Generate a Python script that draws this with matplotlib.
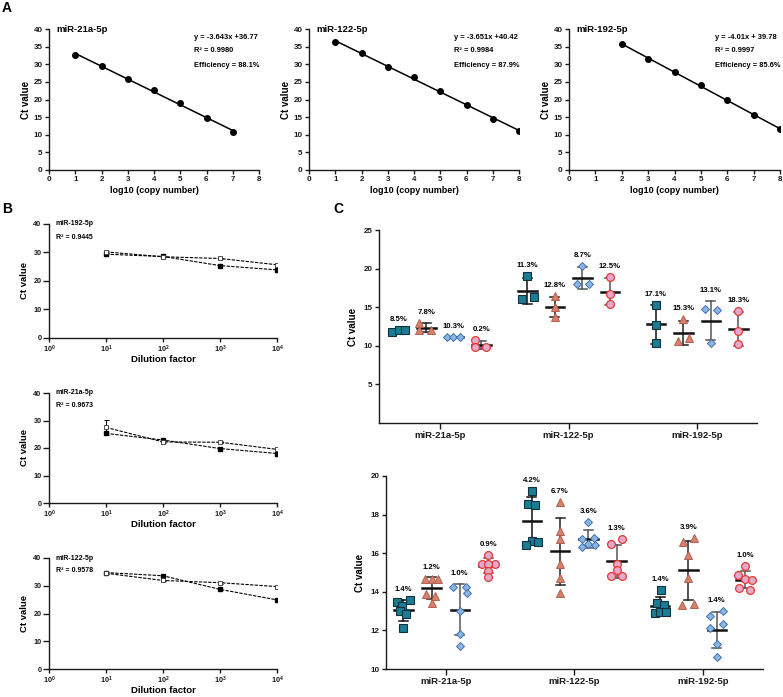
import numpy as np
import matplotlib
matplotlib.use('Agg')
import matplotlib.pyplot as plt

plt.rcParams['font.family'] = ['Liberation Sans', 'DejaVu Sans']
plt.rcParams['font.weight'] = 'bold'
plt.rcParams['axes.labelweight'] = 'bold'
plt.rcParams['mathtext.fontset'] = 'custom'
plt.rcParams['mathtext.rm'] = 'Liberation Sans:bold'
plt.rcParams['mathtext.bf'] = 'Liberation Sans:bold'
plt.rcParams['mathtext.default'] = 'rm'

# ---------------- Panel A data ----------------
a_titles = ['miR-21a-5p', 'miR-122-5p', 'miR-192-5p']
a_x = [[1, 2, 3, 4, 5, 6, 7],
       [1, 2, 3, 4, 5, 6, 7, 8],
       [2, 3, 4, 5, 6, 7, 8]]
a_y = [[32.7, 29.4, 25.8, 22.6, 19.0, 14.8, 10.7],
       [36.2, 33.3, 29.2, 26.4, 22.4, 18.4, 14.6, 11.1],
       [35.8, 31.6, 27.7, 24.0, 19.9, 15.5, 11.7]]
a_eq = ['y = -3.643x +36.77', 'y = -3.651x +40.42', 'y = -4.01x + 39.78']
a_r2 = ['R² = 0.9980', 'R² = 0.9984', 'R² = 0.9997']
a_eff = ['Efficiency = 88.1%', 'Efficiency = 87.9%', 'Efficiency = 85.6%']

# ---------------- Panel B data ----------------
b_titles = ['miR-192-5p', 'miR-21a-5p', 'miR-122-5p']
b_r2 = ['R² = 0.9445', 'R² = 0.9673', 'R² = 0.9578']
b_dilution = [10, 100, 1000, 10000]
b_filled = [[29.4, 28.6, 25.4, 23.9],
            [25.3, 22.9, 19.8, 18.0],
            [34.75, 33.6, 28.7, 24.9]]
b_open = [[30.2, 28.5, 27.9, 25.7],
          [27.5, 22.2, 22.1, 19.5],
          [34.5, 31.9, 31.1, 29.7]]
b_open_sd = [[0.3, 0.2, 0.3, 0.3],
             [2.7, 0.3, 0.3, 0.3],
             [0.3, 0.3, 0.3, 0.3]]

# ---------------- Panel C data ----------------
c_categories = ['miR-21a-5p', 'miR-122-5p', 'miR-192-5p']

# top panel: [series][group] -> values
top_square = [[11.8, 12.0, 12.0], [19.1, 16.0, 16.3], [15.3, 12.7, 10.3]]
top_triangle = [[13.0, 12.0, 12.08], [16.4, 15.0, 13.7], [13.5, 10.65, 11.0]]
top_diamond = [[11.1, 11.1, 11.1], [20.4, 17.96, 18.05], [14.8, 14.6, 10.3]]
top_circle = [[10.7, 9.8, 9.9], [18.9, 16.7, 15.45], [14.55, 11.86, 10.17]]
top_cv = [['8.5%', '7.8%', '10.3%', '0.2%'],
          ['11.3%', '12.8%', '8.7%', '12.5%'],
          ['17.1%', '15.3%', '13.1%', '18.3%']]
top_jitter = [
    [[-0.05, 0.0, 0.045], [0.0, -0.045, 0.05], [0.0, 0.0, 0.0]],
    [[-0.058, -0.058, 0.04], [0.0, 0.0, 0.0], [0.0, -0.045, 0.045]],
    [[-0.055, -0.005, 0.045], [0.0, -0.045, 0.055], [-0.047, 0.05, 0.0]],
    [[-0.05, -0.05, 0.04], [0.0, 0.0, 0.0], [0.0, 0.0, 0.0]],
]

# bottom panel
bot_square = [[13.49, 13.56, 13.28, 13.0, 12.85, 12.1],
              [19.22, 18.55, 18.5, 16.63, 16.56, 16.43],
              [14.09, 13.4, 13.33, 12.92, 12.97, 12.95]]
bot_triangle = [[14.68, 14.65, 14.68, 13.89, 13.8, 13.4],
                [18.64, 17.15, 16.74, 15.44, 14.7, 13.95],
                [16.56, 16.79, 15.9, 14.73, 13.32, 13.35]]
bot_diamond = [[14.23, 14.27, 13.92, 13.02, 11.81, 11.19],
               [17.62, 16.75, 16.8, 16.3, 16.5, 16.45],
               [13.02, 12.75, 12.35, 12.1, 11.3, 10.6]]
bot_circle = [[15.92, 15.45, 15.45, 15.45, 15.1, 14.78],
              [16.46, 16.75, 15.44, 15.13, 14.82, 14.82],
              [15.34, 14.89, 14.66, 14.6, 14.21, 14.09]]
bot_cv = [['1.4%', '1.2%', '1.0%', '0.9%'],
          ['4.2%', '6.7%', '3.6%', '1.3%'],
          ['1.4%', '3.9%', '1.4%', '1.0%']]
bot_jitter = [
    [[-0.047, 0.049, -0.01, -0.026, 0.023, -0.005],
     [0.0, -0.026, 0.026, 0.005, 0.047, -0.044],
     [0.005, -0.023, 0.026, -0.044, 0.0, 0.044]],
    [[-0.055, 0.0, 0.052, -0.044, 0.023, 0.0],
     [0.0, 0.0, 0.0, 0.0, 0.0, 0.0],
     [-0.042, 0.044, 0.0, 0.0, -0.047, 0.044]],
    [[-0.052, 0.047, 0.052, 0.0, 0.0, 0.0],
     [0.0, -0.05, 0.045, -0.052, 0.0, 0.05],
     [0.049, -0.049, 0.047, -0.052, 0.0, 0.0]],
    [[0.0, -0.05, 0.05, 0.0, 0.0, 0.0],
     [-0.047, 0.044, 0.0, 0.0, -0.047, 0.044],
     [0.0, -0.055, 0.0, 0.057, -0.047, 0.041]],
]

# ---------------- figure ----------------
W, H = 783, 697
fig = plt.figure(figsize=(W / 100, H / 100), dpi=100)


def rect(l, r, t, b):
    return [l / W, 1 - b / H, (r - l) / W, (b - t) / H]


def style_axes(ax, fs=5.5):
    for s in ['top', 'right']:
        ax.spines[s].set_visible(False)
    for s in ['left', 'bottom']:
        ax.spines[s].set_linewidth(1.0)
        ax.spines[s].set_color('#1a1a1a')
    ax.tick_params(direction='out', length=3, width=1.0, labelsize=fs,
                   pad=1.5, colors='#1a1a1a')


# Panel A
a_rects = [(49, 259, 29, 170), (309, 519, 29, 170), (569, 780, 29, 170)]
for i in range(3):
    ax = fig.add_axes(rect(*a_rects[i]))
    style_axes(ax, 5.8)
    x = np.array(a_x[i], float)
    y = np.array(a_y[i], float)
    k, b = np.polyfit(x, y, 1)
    ax.plot([x.min(), x.max()], [k * x.min() + b, k * x.max() + b],
            color='black', lw=1.1, zorder=2)
    ax.plot(x, y, 'o', color='black', ms=4, zorder=3)
    ax.set_xlim(0, 8)
    ax.set_ylim(0, 40)
    ax.set_xticks(range(0, 9))
    ax.set_yticks(range(0, 41, 5))
    ax.set_xlabel('log10 (copy number)', fontsize=6.5, labelpad=2)
    ax.set_ylabel('Ct value', fontsize=7, labelpad=2)
    ax.text(0.035, 1.0, a_titles[i], transform=ax.transAxes, fontsize=6.8,
            va='center', ha='left')
    for t, yy in zip([a_eq[i], a_r2[i], a_eff[i]], [0.94, 0.845, 0.74]):
        ax.text(0.69, yy, t, transform=ax.transAxes, fontsize=5.4,
                va='center', ha='left')

# Panel B
b_rects = [(49, 277, 224, 338), (49, 277, 393, 503), (49, 277, 558, 669)]
for i in range(3):
    ax = fig.add_axes(rect(*b_rects[i]))
    style_axes(ax, 5.2)
    ax.set_xscale('log')
    ax.set_xlim(1, 1e4)
    ax.set_ylim(0, 40)
    ax.set_yticks([0, 10, 20, 30, 40])
    ax.set_xticks([1, 10, 100, 1000, 10000])
    ax.set_xticklabels([r'$10^{%d}$' % p for p in range(5)])
    ax.minorticks_off()
    ax.tick_params(axis='y', length=4)
    ax.tick_params(axis='x', pad=1)
    ax.errorbar(b_dilution, b_open[i], yerr=b_open_sd[i], fmt='none',
                ecolor='black', elinewidth=0.7, capsize=1.8, capthick=0.7,
                zorder=2)
    ax.plot(b_dilution, b_filled[i], ls=(0, (3, 1.2)), lw=0.8, color='black',
            marker='s', ms=2.8, mfc='black', mec='black', zorder=3)
    ax.plot(b_dilution, b_open[i], ls=(0, (3, 1.2)), lw=0.8, color='black',
            marker='s', ms=2.8, mfc='white', mec='#333333', mew=0.6, zorder=4)
    ax.set_xlabel('Dilution factor', fontsize=6.8, labelpad=0)
    ax.set_ylabel('Ct value', fontsize=6.8, labelpad=3)
    ax.text(0.03, 1.0, b_titles[i], transform=ax.transAxes, fontsize=5,
            va='center', ha='left')
    ax.text(0.03, 0.885, b_r2[i], transform=ax.transAxes, fontsize=5,
            va='center', ha='left')

# Panel C
series_styles = [
    dict(marker='s', mfc='#1b7d93', mec='#10323c', ms=5.6, mew=0.8),
    dict(marker='^', mfc='#d8806c', mec='#b0604e', ms=5.8, mew=0.7),
    dict(marker='D', mfc='#8db4e0', mec='#3f72ad', ms=4.4, mew=0.7),
    dict(marker='o', mfc='#e6a8cb', mec='#e23b34', ms=5.6, mew=0.9),
]
err_colors = ['#111111', '#222222', '#555555', '#555555']


def draw_c(ax, series, jitter, cvs, offset):
    for g in range(3):
        for s in range(4):
            vals = np.array(series[s][g], float)
            xc = g + (s - 1.5) * offset
            xs = xc + np.array(jitter[s][g])
            m = vals.mean()
            sd = vals.std(ddof=1)
            ec = err_colors[s]
            ax.plot([xc, xc], [m - sd, m + sd], color=ec, lw=1.1, zorder=2)
            for yy in (m - sd, m + sd):
                ax.plot([xc - 0.035, xc + 0.035], [yy, yy], color=ec, lw=1.1,
                        zorder=2)
            ax.plot([xc - 0.072, xc + 0.072], [m, m], color='#111111', lw=1.8,
                    zorder=2)
            ax.plot(xs, vals, ls='none', zorder=3, **series_styles[s])
            top = max(vals.max(), m + sd)
            ax.annotate(cvs[g][s], (xc, top), xytext=(0, 7.5),
                        textcoords='offset points', ha='center', va='center',
                        fontsize=5.6)


axc1 = fig.add_axes(rect(379, 757, 230, 423))
style_axes(axc1, 5.8)
draw_c(axc1, [top_square, top_triangle, top_diamond, top_circle],
       top_jitter, top_cv, 0.214)
axc1.set_xlim(-0.475, 2.466)
axc1.set_ylim(0, 25)
axc1.set_yticks([5, 10, 15, 20, 25])
axc1.set_xticks([0, 1, 2])
axc1.set_xticklabels(c_categories, fontsize=6.8)
axc1.tick_params(axis='x', length=4)
axc1.set_ylabel('Ct value', fontsize=7, labelpad=4)

axc2 = fig.add_axes(rect(386, 763, 476, 669))
style_axes(axc2, 5.8)
draw_c(axc2, [bot_square, bot_triangle, bot_diamond, bot_circle],
       bot_jitter, bot_cv, 0.22)
axc2.set_xlim(-0.465, 2.47)
axc2.set_ylim(10, 20)
axc2.set_yticks([10, 12, 14, 16, 18, 20])
axc2.set_xticks([0, 1, 2])
axc2.set_xticklabels(c_categories, fontsize=6.8)
axc2.tick_params(axis='x', length=4)
axc2.set_ylabel('Ct value', fontsize=7, labelpad=4)

# panel letters
for lab, px, py in [('A', 7, 8), ('B', 7, 209), ('C', 338, 209)]:
    fig.text(px / W, 1 - py / H, lab, fontsize=10, fontweight='bold',
             ha='center', va='center')

fig.savefig('out.png', dpi=100)
